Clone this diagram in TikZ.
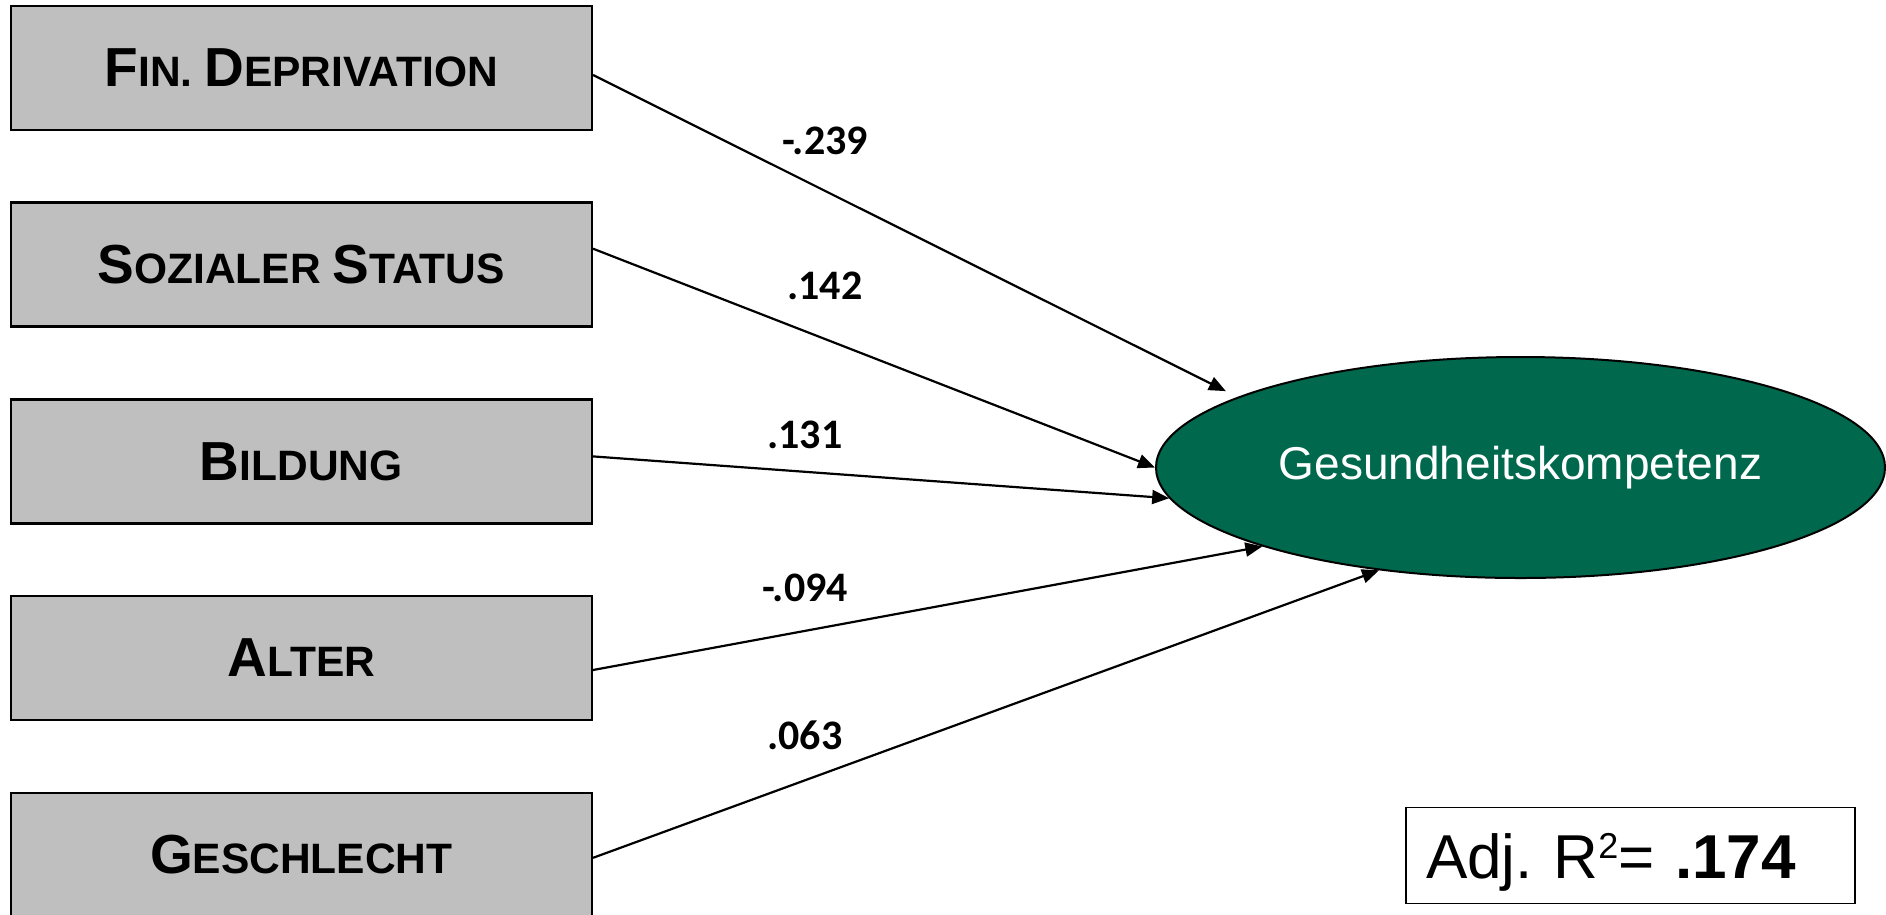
\documentclass[tikz,border=0pt]{standalone}
\usepackage{fontspec}
\setmainfont{Liberation Sans}
\newfontfamily\carlitofont{Carlito}
\usetikzlibrary{shapes.geometric,arrows.meta}
\definecolor{boxgray}{RGB}{191,191,191}
\definecolor{hkgreen}{RGB}{0,104,77}
\newcommand{\capbig}{\fontsize{55}{60}\selectfont}
\newcommand{\capsmall}{\fontsize{42.5}{44}\selectfont}
\frenchspacing
\begin{document}
\begin{tikzpicture}[x=1pt,y=-1pt,
  predbox/.style={draw=black, line width=2.5pt, fill=boxgray, minimum width=581pt, minimum height=124pt, inner sep=0pt, font=\bfseries\capbig},
  effect/.style={line width=2.2pt, -{Triangle[length=17pt,width=14pt]}},
  coef/.style={font=\carlitofont\bfseries\fontsize{42}{44}\selectfont, inner sep=0pt}
]
\useasboundingbox (0,0) rectangle (1886,914);

\node[predbox] (b1) at (301.3,68) {F\capsmall IN. \capbig D\capsmall EPRIVATION};
\node[predbox] (b2) at (301.3,264.7) {S\capsmall OZIALER \capbig S\capsmall TATUS};
\node[predbox] (b3) at (301.3,461.4) {B\capsmall ILDUNG};
\node[predbox] (b4) at (301.3,658) {A\capsmall LTER};
\node[predbox] (b5) at (301.3,854.8) {G\capsmall ESCHLECHT};

\node[ellipse, draw=black, line width=2pt, fill=hkgreen, minimum width=729pt, minimum height=221pt, inner sep=0pt, text=white, font=\fontsize{46}{48}\selectfont] (hk) at (1520.5,467.5) {Gesundheitskompetenz};

\draw[effect, shorten >=13pt] ([yshift=-7pt]b1.east) -- (hk.166.1);
\draw[effect] ([yshift=16pt]b2.east) -- (hk.180);
\draw[effect] ([yshift=5pt]b3.east) -- (hk.185.4);
\draw[effect] ([yshift=-12pt]b4.east) -- (hk.197.2);
\draw[effect] ([yshift=-3pt]b5.east) -- (hk.216.7);

\node[coef] (c1) at (825,141) {-.239};
\node[coef] (c2) at (825,286) {.142};
\node[coef] (c3) at (805,435) {.131};
\node[coef] (c4) at (805,588) {-.094};
\node[coef] (c5) at (805,735) {.063};

\node[draw=black, line width=1.5pt, text width=409pt, align=left, inner xsep=20pt, inner ysep=0pt, minimum height=96pt, text height=45pt, text depth=0pt, font=\fontsize{62}{64}\selectfont] (r2) at (1630.5,855.5) {Adj. R\raisebox{20pt}{\fontsize{36}{36}\selectfont 2}= \textbf{.174}};
\end{tikzpicture}
\end{document}
